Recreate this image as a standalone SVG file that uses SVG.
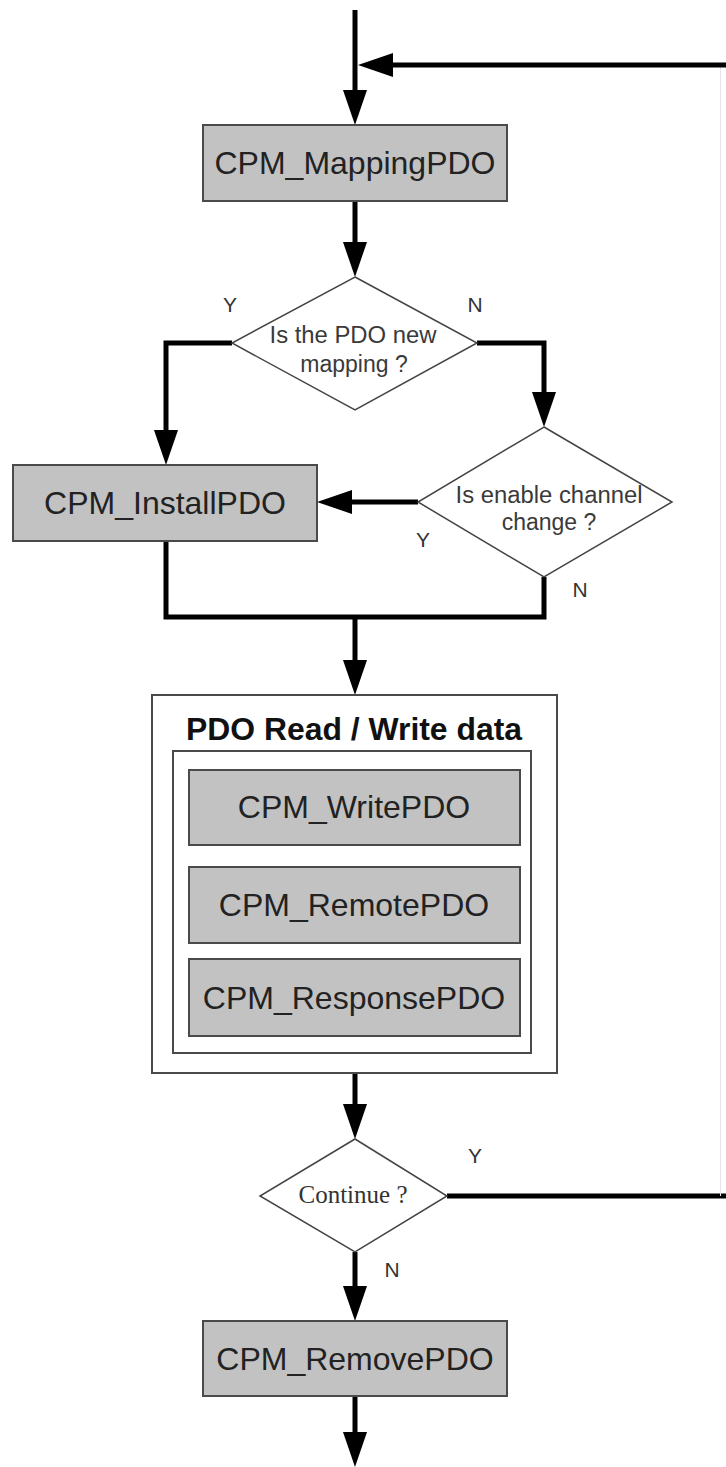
<svg xmlns="http://www.w3.org/2000/svg" width="726" height="1467" viewBox="0 0 726 1467">
<defs>
<marker id="ah" markerUnits="userSpaceOnUse" markerWidth="36" markerHeight="24" refX="0" refY="12" orient="auto">
<path d="M0,0 L35,12 L0,24 Z" fill="#000"/>
</marker>
<style>
.box{fill:#c2c2c2;stroke:#4a4a4a;stroke-width:2}
.frame{fill:#fff;stroke:#4a4a4a;stroke-width:2}
.dia{fill:#fff;stroke:#444;stroke-width:1.5}
.bt{font-family:"Liberation Sans",Arial,sans-serif;font-size:32px;fill:#222;text-anchor:middle}
.dt{font-family:"Liberation Sans",Arial,sans-serif;font-size:23px;fill:#3a3a3a;text-anchor:middle}
.lb{font-family:"Liberation Sans",Arial,sans-serif;font-size:21px;fill:#333;text-anchor:middle}
.ln{fill:none;stroke:#000;stroke-width:5}
.arr{fill:none;stroke:#000;stroke-width:5;marker-end:url(#ah)}
</style>
</defs>
<rect width="726" height="1467" fill="#fff"/>
<g id="connectors">
<path class="arr" d="M355,10 V90"/>
<path class="ln" d="M447,1196 H726"/>
<line x1="720.5" y1="65" x2="720.5" y2="1196" stroke="#e4e4e4" stroke-width="1"/>
<path class="arr" d="M726,65 H393"/>
<path class="arr" d="M355,201 V242"/>
<path class="arr" d="M232,343 H166 V430"/>
<path class="arr" d="M477,343 H544 V392"/>
<path class="arr" d="M418,502 H352"/>
<path class="ln" d="M166,541 V617 H544 V577"/>
<path class="arr" d="M355,617 V660"/>
<path class="arr" d="M355,1073 V1104"/>
<path class="arr" d="M355,1252 V1286"/>
<path class="arr" d="M355,1396 V1432"/>
</g>
<g id="mapping">
<rect class="box" x="203" y="125" width="304" height="76"/>
<text class="bt" x="355" y="174">CPM_MappingPDO</text>
</g>
<g id="dec-new-mapping">
<polygon class="dia" points="355,277 477,343 355,410 232,343"/>
<text class="dt" x="353" y="343" textLength="167" lengthAdjust="spacingAndGlyphs">Is the PDO new</text>
<text class="dt" x="354" y="372">mapping ?</text>
<text class="lb" x="230" y="312">Y</text>
<text class="lb" x="475" y="312">N</text>
</g>
<g id="install">
<rect class="box" x="13" y="465" width="304" height="76"/>
<text class="bt" x="165" y="514">CPM_InstallPDO</text>
</g>
<g id="dec-enable">
<polygon class="dia" points="544,427 672,502 544,577 418,502"/>
<text class="dt" x="549" y="503" textLength="187" lengthAdjust="spacingAndGlyphs">Is enable channel</text>
<text class="dt" x="549" y="530">change ?</text>
<text class="lb" x="423" y="547">Y</text>
<text class="lb" x="580" y="597">N</text>
</g>
<g id="rw-group">
<rect class="frame" x="152" y="695" width="405" height="378"/>
<text x="354" y="740" font-family="Liberation Sans, Arial, sans-serif" font-size="31" font-weight="bold" fill="#111" text-anchor="middle" textLength="336" lengthAdjust="spacingAndGlyphs">PDO Read / Write data</text>
<rect class="frame" x="173" y="751" width="358" height="302" stroke="#222"/>
</g>
<g id="write">
<rect class="box" x="189" y="770" width="331" height="75"/>
<text class="bt" x="354" y="818">CPM_WritePDO</text>
</g>
<g id="remote">
<rect class="box" x="189" y="867" width="331" height="76"/>
<text class="bt" x="354" y="916">CPM_RemotePDO</text>
</g>
<g id="response">
<rect class="box" x="189" y="959" width="331" height="77"/>
<text class="bt" x="354" y="1009">CPM_ResponsePDO</text>
</g>
<g id="dec-continue">
<polygon class="dia" points="355,1139 447,1196 355,1252 260,1196"/>
<text x="353" y="1203" font-family="Liberation Serif, Times New Roman, serif" font-size="25" fill="#333" text-anchor="middle">Continue ?</text>
<text class="lb" x="475" y="1163">Y</text>
<text class="lb" x="392" y="1277">N</text>
</g>
<g id="remove">
<rect class="box" x="203" y="1321" width="304" height="75"/>
<text class="bt" x="355" y="1370">CPM_RemovePDO</text>
</g>
</svg>
